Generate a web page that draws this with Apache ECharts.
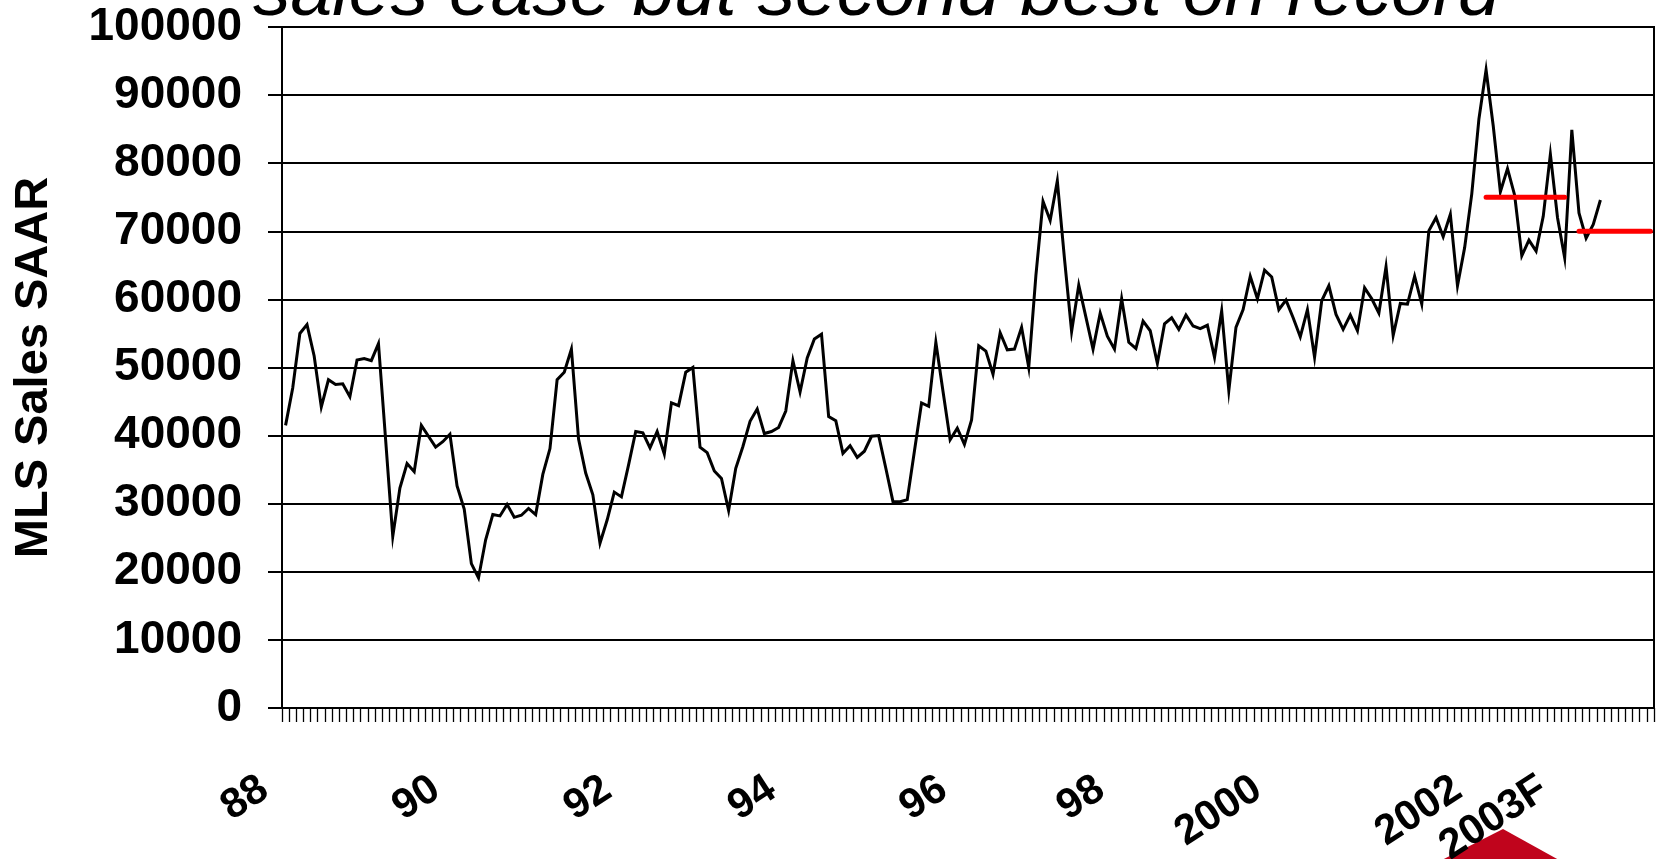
<!DOCTYPE html>
<html>
<head>
<meta charset="utf-8">
<title>MLS Sales SAAR</title>
<script src="https://cdn.jsdelivr.net/npm/echarts@6/dist/echarts.min.js"></script>
<style>
  html, body { margin: 0; padding: 0; background: #fff; }
  #chart { width: 1663px; height: 859px; }
</style>
</head>
<body>
<div id="chart"></div>
<script>
const FONT = '"Liberation Sans", Arial, Helvetica, sans-serif';

// Monthly categories, Jan 1988 through Dec 2003
const months = [];
for (let y = 1988; y <= 2003; y++) {
  for (let m = 1; m <= 12; m++) months.push(y + '-' + String(m).padStart(2, '0'));
}

// MLS sales, seasonally adjusted annual rate, monthly from Jan 1988
const mlsSales = [
  41500, 47000, 55000, 56300, 51700, 44200, 48200, 47500, 47600, 45700, 51100, 51300,
  51000, 53500, 39400, 25200, 32300, 35900, 34700, 41500, 39900, 38300, 39100, 40200,
  32600, 29200, 21200, 19100, 24700, 28400, 28200, 29900, 28000, 28300, 29300, 28400,
  34300, 38100, 48200, 49300, 52700, 39500, 34500, 31300, 24200, 27600, 31700, 31000,
  35700, 40600, 40400, 38200, 40600, 37300, 44800, 44400, 49300, 50000, 38300, 37500,
  34800, 33700, 29000, 35200, 38400, 42100, 43900, 40300, 40600, 41200, 43600, 51000,
  46400, 51400, 54200, 54900, 42800, 42200, 37400, 38500, 36800, 37700, 39900, 40000,
  35200, 30300, 30300, 30600, 37700, 44800, 44300, 53700, 46500, 39400, 41100, 38700,
  42300, 53200, 52400, 49000, 55100, 52600, 52700, 55900, 50000, 63500, 74400, 71600,
  77400, 66000, 55300, 62100, 57400, 52700, 58000, 54600, 52700, 60100, 53700, 52800,
  56800, 55400, 50600, 56400, 57300, 55600, 57700, 56100, 55700, 56200, 51500, 58300,
  46600, 55900, 58500, 63400, 60100, 64300, 63300, 58500, 59900, 57300, 54500, 58500,
  51500, 59800, 62000, 57800, 55600, 57700, 55400, 61700, 60100, 58000, 64800, 54700,
  59400, 59300, 63400, 59300, 70100, 72000, 69200, 72500, 62000, 67600, 75500, 86500,
  93700, 85500, 75800, 79200, 75300, 66400, 68700, 67100, 72200, 81300, 72000, 66100,
  84900, 72700, 69000, 71000, 74600
];

// Annual level: 2002 actual and 2003 forecast
const annualLevels = [
  { from: '2002-01', to: '2002-12', value: 75000 },
  { from: '2003-02', to: '2003-12', value: 70000 }
];

// Year labels and the month each one is attached to
const yearLabels = ['88', '90', '92', '94', '96', '98', '2000', '2002', '2003F'];
const yearLabelMonths = ['1988-01', '1990-01', '1992-01', '1993-12', '1995-12', '1997-10', '1999-08', '2001-12', '2002-12'];

const labelByMonth = {};
yearLabelMonths.forEach((m, i) => { labelByMonth[m] = yearLabels[i]; });

const levelSeries = annualLevels.map(seg => ({
  type: 'line',
  data: months.map(m => (m >= seg.from && m <= seg.to) ? seg.value : null),
  symbol: 'none',
  silent: true,
  z: 4,
  lineStyle: { color: '#ff0000', width: 5, cap: 'round' }
}));

const chart = echarts.init(document.getElementById('chart'), null, { renderer: 'canvas' });

chart.setOption({
  animation: false,
  backgroundColor: '#ffffff',
  textStyle: { fontFamily: FONT },
  title: {
    text: 'sales ease but second best on record',
    left: 253,
    top: -43,
    padding: 0,
    textStyle: {
      fontFamily: FONT,
      fontSize: 75,
      fontStyle: 'italic',
      fontWeight: 'normal',
      color: '#000'
    }
  },
  grid: {
    left: 282, right: 9, top: 27, bottom: 151,
    outerBoundsMode: 'none',
    containLabel: false,
    show: true,
    borderColor: '#000',
    borderWidth: 2
  },
  xAxis: {
    type: 'category',
    data: months,
    boundaryGap: true,
    axisLine: { lineStyle: { color: '#000', width: 2 } },
    axisTick: { show: true, interval: 0, length: 14, lineStyle: { color: '#000', width: 1.3 } },
    splitLine: { show: false },
    axisLabel: {
      interval: 0,
      rotate: 33,
      margin: 64,
      padding: [0, 25, 0, 0],
      fontFamily: FONT,
      fontSize: 42,
      fontWeight: 'bold',
      color: '#000',
      formatter: (value) => labelByMonth[value] || ''
    }
  },
  yAxis: {
    type: 'value',
    min: 0,
    max: 100000,
    interval: 10000,
    name: 'MLS Sales SAAR',
    nameLocation: 'middle',
    nameGap: 224,
    nameRotate: 90,
    nameTextStyle: {
      fontFamily: FONT,
      fontSize: 47,
      fontWeight: 'bold',
      color: '#000'
    },
    axisLine: { show: true, lineStyle: { color: '#000', width: 2 } },
    axisTick: { show: true, length: 14, lineStyle: { color: '#000', width: 2 } },
    axisLabel: {
      margin: 40,
      fontFamily: FONT,
      fontSize: 46,
      fontWeight: 'bold',
      color: '#000',
      formatter: (v) => String(v)
    },
    splitLine: { show: true, lineStyle: { color: '#000', width: 2 } }
  },
  series: [
    {
      type: 'line',
      name: 'MLS Sales SAAR',
      data: mlsSales,
      symbol: 'none',
      silent: true,
      z: 3,
      lineStyle: { color: '#000', width: 3, join: 'miter' }
    },
    ...levelSeries
  ],
  graphic: [
    {
      type: 'polygon',
      z: -1,
      silent: true,
      shape: { points: [[1503, 829], [1568, 865], [1432, 865]] },
      style: { fill: '#c0041c' }
    }
  ]
});
</script>
</body>
</html>
